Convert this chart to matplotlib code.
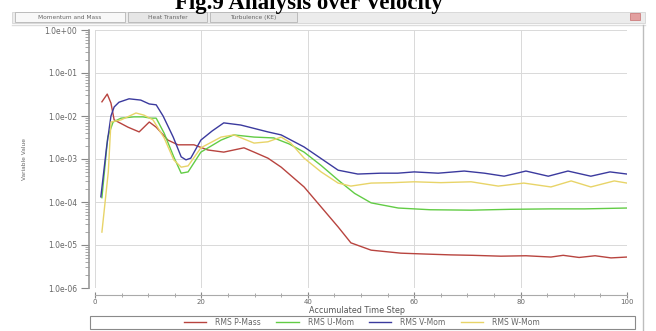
import numpy as np
import matplotlib
matplotlib.use("Agg")
import matplotlib.pyplot as plt
from matplotlib.patches import Rectangle
from matplotlib.lines import Line2D
from matplotlib.ticker import LogLocator, MultipleLocator, FixedLocator

W, H = 656, 331

TITLE   = "Fig.9 Analysis over Velocity"
TABS    = ["Momentum and Mass", "Heat Transfer", "Turbulence (KE)"]
LABELS  = ["RMS P-Mass", "RMS U-Mom", "RMS V-Mom", "RMS W-Mom"]
COLORS  = ["#b8443f", "#62cc45", "#3b3a9e", "#e8d468"]
YTICKS  = [1e0, 1e-1, 1e-2, 1e-3, 1e-4, 1e-5, 1e-6]
YTICKLABELS = ["1.0e+00", "1.0e-01", "1.0e-02", "1.0e-03", "1.0e-04", "1.0e-05", "1.0e-06"]
XTICKS  = [0, 20, 40, 60, 80, 100]

# residuals, stored as log10 values
steps_p = [1.3, 2.3, 3.0, 3.6, 6.2, 8.3, 10.2, 11.5, 13.7, 15.6, 18.6, 21.2, 24.2, 28.0,
           29.9, 32.5, 35.0, 39.3, 45.7, 48.1, 51.9, 57.5, 62, 66.9, 71, 76.3, 81, 85.7,
           88, 91, 94, 97, 100]
p_log   = [-1.67, -1.49, -1.70, -2.09, -2.26, -2.37, -2.14, -2.26, -2.56, -2.67, -2.67,
           -2.79, -2.84, -2.74, -2.84, -2.98, -3.19, -3.65, -4.58, -4.95, -5.12, -5.19,
           -5.21, -5.23, -5.24, -5.26, -5.25, -5.28, -5.24, -5.29, -5.25, -5.30, -5.28]

steps_u = [1.3, 2.4, 3.4, 4.9, 7.3, 9.0, 10.5, 11.5, 13.0, 14.8, 16.2, 17.5, 19.9, 23.7,
           26.1, 29.9, 33.6, 36.5, 39.3, 42.5, 45.7, 48.8, 51.9, 57.0, 63, 70.7, 78,
           85.7, 92, 100]
u_log   = [-3.9, -2.49, -2.14, -2.05, -2.02, -2.02, -2.05, -2.05, -2.40, -2.95, -3.33,
           -3.30, -2.84, -2.56, -2.44, -2.49, -2.51, -2.65, -2.84, -3.15, -3.49, -3.80,
           -4.02, -4.14, -4.18, -4.19, -4.17, -4.16, -4.16, -4.14]

steps_v = [1.1, 2.2, 3.0, 3.6, 4.5, 6.4, 8.6, 10.2, 11.5, 12.8, 14.7, 16.2, 17.1, 18.0,
           19.9, 22.0, 24.2, 27.4, 32.5, 35.0, 39.3, 45.7, 49.4, 53.7, 56.9, 60.0, 64.5,
           69.4, 73.2, 76.9, 81.0, 85.2, 88.9, 93.2, 96.8, 100]
v_log   = [-3.88, -2.70, -2.00, -1.79, -1.68, -1.60, -1.63, -1.72, -1.74, -2.00, -2.49,
           -2.95, -3.02, -2.98, -2.56, -2.35, -2.16, -2.21, -2.37, -2.44, -2.72, -3.26,
           -3.35, -3.33, -3.33, -3.30, -3.33, -3.28, -3.33, -3.40, -3.28, -3.40, -3.28,
           -3.40, -3.30, -3.35]

steps_w = [1.3, 2.5, 3.0, 4.9, 7.7, 9.2, 10.9, 13.0, 14.8, 16.2, 17.5, 19.9, 23.7, 26.1,
           29.9, 32.5, 35.0, 36.8, 39.3, 42.5, 45.7, 48.1, 51.9, 56, 60.0, 65, 70.7,
           75.8, 80.6, 85.7, 89.5, 93.2, 97.6, 100]
w_log   = [-4.70, -3.30, -2.14, -2.09, -1.93, -1.98, -2.09, -2.51, -3.02, -3.19, -3.16,
           -2.74, -2.49, -2.44, -2.63, -2.60, -2.49, -2.63, -2.98, -3.30, -3.56, -3.63,
           -3.56, -3.55, -3.53, -3.55, -3.53, -3.63, -3.56, -3.65, -3.51, -3.65, -3.51,
           -3.56]

series = [(steps_p, p_log), (steps_u, u_log), (steps_v, v_log), (steps_w, w_log)]


def fx(px):
    return px / W


def fy(py):
    return 1 - py / H


fig = plt.figure(figsize=(W / 100, H / 100), dpi=100)
fig.patch.set_facecolor("white")

# ── window chrome ──────────────────────────────────────────────────────────
fig.patches.append(Rectangle((fx(12), fy(23)), fx(633), 11 / H, transform=fig.transFigure,
                             facecolor="#ececec", edgecolor="#d4d4d4", lw=0.6))
tab_x = [(15, 125), (128, 207), (210, 297)]
for i, ((a, b), name) in enumerate(zip(tab_x, TABS)):
    fig.patches.append(Rectangle((fx(a), fy(22)), fx(b - a), 10 / H, transform=fig.transFigure,
                                 facecolor="#f8f8f8" if i == 0 else "#e6e6e6",
                                 edgecolor="#b5b5b5", lw=0.6))
    fig.text(fx((a + b) / 2), fy(17.5), name, ha="center", va="center",
             fontsize=4.2, color="#666666")
fig.patches.append(Rectangle((fx(630), fy(20)), fx(10), 7 / H, transform=fig.transFigure,
                             facecolor="#e3a0a0", edgecolor="#c87070", lw=0.5))
fig.lines.append(Line2D([fx(12), fx(645)], [fy(25), fy(25)], transform=fig.transFigure,
                        color="#dddddd", lw=1.0))
fig.lines.append(Line2D([fx(643), fx(643)], [fy(25), fy(331)], transform=fig.transFigure,
                        color="#bdbdbd", lw=1.0))

fig.text(fx(309), fy(9), TITLE, ha="center", va="baseline", fontsize=16.5,
         fontweight="bold", family="Liberation Serif", color="black")

# ── plot ───────────────────────────────────────────────────────────────────
ax = fig.add_axes([fx(95), fy(288), fx(627 - 95), (288 - 30) / H])
for (xs, ls), c, lab in zip(series, COLORS, LABELS):
    ax.plot(xs, 10 ** np.array(ls), color=c, lw=1.0, label=lab)

ax.set_yscale("log")
ax.set_ylim(1e-6, 1e0)
ax.set_xlim(0, 100)
ax.yaxis.set_major_locator(FixedLocator(YTICKS))
ax.set_yticklabels(YTICKLABELS)
ax.yaxis.set_minor_locator(LogLocator(base=10, subs=np.arange(2, 10)))
ax.yaxis.set_minor_formatter(plt.NullFormatter())
ax.set_xticks(XTICKS)
ax.xaxis.set_minor_locator(MultipleLocator(5))

ax.grid(True, which="major", color="#d9d9d9", lw=0.7)
for s in ["top", "right"]:
    ax.spines[s].set_visible(False)
ax.spines["left"].set_position(("outward", 4))
ax.spines["bottom"].set_position(("outward", 5))
ax.spines["left"].set_color("#999999")
ax.spines["bottom"].set_color("#aaaaaa")
ax.spines["left"].set_linewidth(1.2)
ax.spines["bottom"].set_linewidth(0.8)
ax.spines["bottom"].set_linestyle((0, (2, 1)))

ax.tick_params(axis="y", which="major", length=6, width=0.8, color="#888888",
               labelsize=5.5, labelcolor="#666666", pad=3)
ax.tick_params(axis="y", which="minor", length=3, width=0.6, color="#999999")
ax.tick_params(axis="x", which="major", direction="inout", length=4, width=0.8,
               color="#888888", labelsize=5, labelcolor="#666666", pad=1)
ax.tick_params(axis="x", which="minor", direction="inout", length=3, width=0.6,
               color="#999999")

ax.set_xlabel("Accumulated Time Step", fontsize=5.8, color="#555555")
ax.xaxis.set_label_coords(fx(357 - 95) / fx(627 - 95), -(306 - 288) / (288 - 30))
ax.set_ylabel("Variable Value", fontsize=4.2, color="#666666")
ax.yaxis.set_label_coords(fx(27 - 95) / fx(627 - 95), 0.5)

# ── legend box ─────────────────────────────────────────────────────────────
fig.patches.append(Rectangle((fx(90), fy(329)), fx(545), 13 / H, transform=fig.transFigure,
                             facecolor="white", edgecolor="#8a8a8a", lw=0.8))
fig.legend(loc="center", bbox_to_anchor=(fx(362), fy(322.5)), ncol=4, frameon=False,
           fontsize=5.5, handlelength=2.9, handletextpad=1.2, columnspacing=2.0,
           labelcolor="#666666", borderpad=0, borderaxespad=0)

fig.savefig("out.png", dpi=100)
